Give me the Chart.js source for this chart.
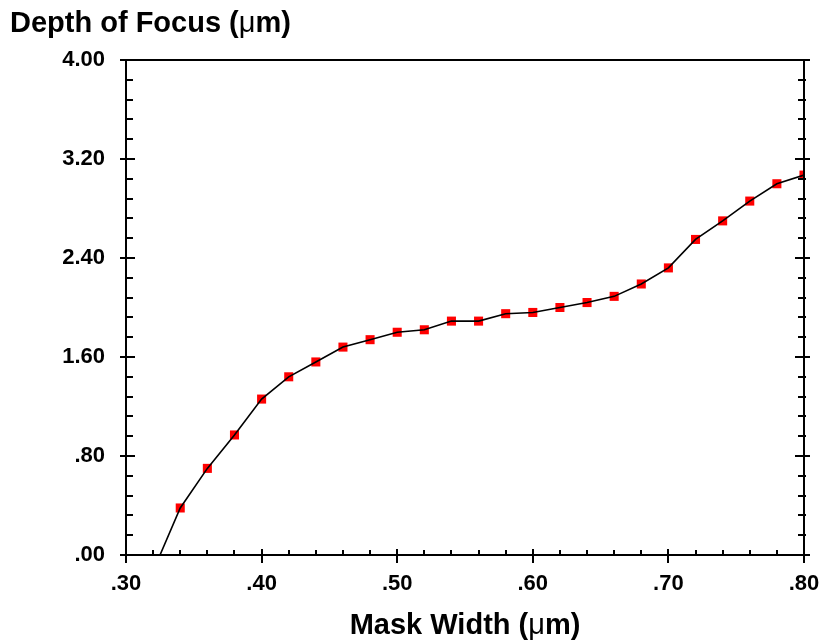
<!DOCTYPE html>
<html>
<head>
<meta charset="utf-8">
<script src="https://cdn.jsdelivr.net/npm/chart.js@4.4.1/dist/chart.umd.min.js"></script>
<style>
  html, body { margin: 0; padding: 0; background: #fff; }
  #dof { display: block; }
</style>
</head>
<body>
<canvas id="dof" width="819" height="640"></canvas>
<script>
// mask width (um) vs depth of focus (um); first point falls below zero and only sets the line slope
const maskWidth = [0.32, 0.34, 0.36, 0.38, 0.40, 0.42, 0.44, 0.46, 0.48, 0.50, 0.52, 0.54, 0.56,
                   0.58, 0.60, 0.62, 0.64, 0.66, 0.68, 0.70, 0.72, 0.74, 0.76, 0.78, 0.80];
const depthOfFocus = [-0.13, 0.38, 0.70, 0.97, 1.26, 1.44, 1.56, 1.68, 1.74, 1.80, 1.82, 1.89, 1.89,
                      1.95, 1.96, 2.00, 2.04, 2.09, 2.19, 2.32, 2.55, 2.70, 2.86, 3.00, 3.07];

const xTickLabels = ['.30', '.40', '.50', '.60', '.70', '.80'];
const yTickLabels = ['.00', '.80', '1.60', '2.40', '3.20', '4.00'];

const FONT = '"Liberation Sans", Arial, Helvetica, sans-serif';

const points = maskWidth.map((x, i) => ({ x: x, y: depthOfFocus[i] }));

// text with a plain-weight mu between bold runs
function drawTitle(ctx, parts, x, y, align) {
  let total = 0;
  const widths = parts.map(p => {
    ctx.font = p[1];
    const w = ctx.measureText(p[0]).width;
    total += w;
    return w;
  });
  let cx = align === 'center' ? x - total / 2 : x;
  ctx.textBaseline = 'alphabetic';
  ctx.textAlign = 'left';
  ctx.fillStyle = '#000';
  parts.forEach((p, i) => {
    ctx.font = p[1];
    ctx.fillText(p[0], cx, y);
    cx += widths[i];
  });
}

const frameAndTicks = {
  id: 'frameAndTicks',
  afterDatasetsDraw(chart) {
    const ctx = chart.ctx;
    const { left, right, top, bottom } = chart.chartArea;
    const xs = chart.scales.x, ys = chart.scales.y;
    ctx.save();
    ctx.strokeStyle = '#000';
    ctx.lineWidth = 2;
    ctx.beginPath();
    ctx.rect(left, top, right - left, bottom - top);
    ctx.stroke();

    ctx.beginPath();
    // y axis ticks, left and right
    for (let k = 0; k <= 25; k++) {
      const py = Math.round(ys.getPixelForValue(k * 0.16));
      const major = k % 5 === 0;
      if (major) {
        ctx.moveTo(left - 6, py); ctx.lineTo(left + 9, py);
        ctx.moveTo(right - 9, py); ctx.lineTo(right + 6, py);
      } else {
        ctx.moveTo(left, py); ctx.lineTo(left + 7, py);
        ctx.moveTo(right - 6, py); ctx.lineTo(right + 2, py);
      }
    }
    // x axis ticks along the bottom
    for (let k = 0; k <= 25; k++) {
      const px = Math.round(xs.getPixelForValue(0.3 + k * 0.02));
      const major = k % 5 === 0;
      if (major) {
        ctx.moveTo(px, bottom + 8); ctx.lineTo(px, bottom - 6);
      } else {
        ctx.moveTo(px, bottom); ctx.lineTo(px, bottom - 5);
      }
    }
    ctx.stroke();
    ctx.restore();
  },
  afterDraw(chart) {
    const ctx = chart.ctx;
    const { left, right } = chart.chartArea;
    ctx.save();
    drawTitle(ctx, [
      ['Depth of Focus (', 'bold 29px ' + FONT],
      ['\u03bc', '29px ' + FONT],
      ['m)', 'bold 29px ' + FONT]
    ], 10, 32, 'left');
    drawTitle(ctx, [
      ['Mask Width (', 'bold 29px ' + FONT],
      ['\u03bc', '29px ' + FONT],
      ['m)', 'bold 29px ' + FONT]
    ], (left + right) / 2, 634, 'center');
    ctx.restore();
  }
};

new Chart(document.getElementById('dof'), {
  type: 'scatter',
  data: {
    datasets: [
      {
        label: 'curve',
        data: points,
        showLine: true,
        borderColor: '#000',
        borderWidth: 1.6,
        pointRadius: 0,
        pointHoverRadius: 0,
        order: 1
      },
      {
        label: 'measured',
        data: points,
        showLine: false,
        pointStyle: 'rect',
        pointRadius: depthOfFocus.map(v => (v < 0 ? 0 : 6.4)),
        backgroundColor: '#ff0000',
        borderColor: '#ff0000',
        borderWidth: 0,
        order: 2
      }
    ]
  },
  options: {
    responsive: false,
    animation: false,
    events: [],
    layout: { padding: { top: 60, right: 15, bottom: 0, left: 0 } },
    plugins: {
      legend: { display: false },
      tooltip: { enabled: false },
      title: { display: false }
    },
    scales: {
      x: {
        type: 'linear',
        min: 0.3,
        max: 0.8,
        grid: { display: false, drawTicks: false },
        border: { display: false },
        afterFit: s => { s.height = 85; s.paddingLeft = 0; s.paddingRight = 0; },
        ticks: {
          stepSize: 0.1,
          padding: 16,
          color: '#000',
          font: { family: FONT, size: 22, weight: 'bold' },
          callback: (v, i) => xTickLabels[i]
        }
      },
      y: {
        type: 'linear',
        min: 0,
        max: 4,
        grid: { display: false, drawTicks: false },
        border: { display: false },
        afterFit: s => { s.width = 126; s.paddingTop = 0; s.paddingBottom = 0; },
        ticks: {
          stepSize: 0.8,
          padding: 21,
          color: '#000',
          font: { family: FONT, size: 22, weight: 'bold' },
          callback: (v, i) => yTickLabels[i]
        }
      }
    }
  },
  plugins: [frameAndTicks]
});
</script>
</body>
</html>
